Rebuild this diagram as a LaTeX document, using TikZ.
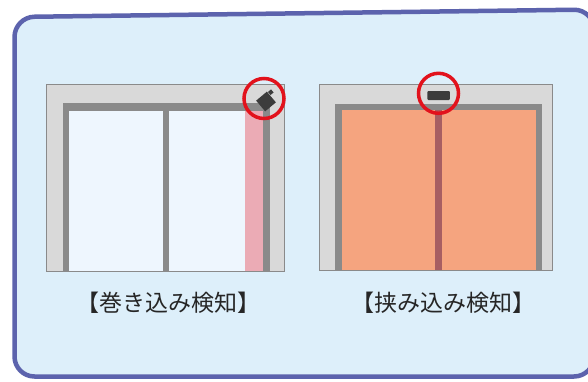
\documentclass[tikz,border=0pt]{standalone}
\usepackage{fontspec}
\newfontfamily\jpfont{Noto Sans CJK JP}
\usetikzlibrary{shapes,positioning,shadows,calc}
\usepackage{xcolor}
\definecolor{panelbg}{HTML}{DDEFFA}
\definecolor{panelrim}{HTML}{5C63AD}
\definecolor{jambgray}{HTML}{D9D9D9}
\definecolor{trimgray}{HTML}{8A8A8A}
\definecolor{glassdoor}{HTML}{EEF6FE}
\definecolor{beampink}{HTML}{EBABB5}
\definecolor{doororange}{HTML}{F5A47F}
\definecolor{seamred}{HTML}{A75E62}
\definecolor{ringred}{HTML}{E2121C}
\definecolor{sensorgray}{HTML}{3C3C3C}

\begin{document}
\begin{tikzpicture}[x=1pt, y=-1pt,
        jamb/.style={fill=jambgray, draw=trimgray, line width=0.8pt},
        trim/.style={fill=trimgray},
        ring/.style={circle, draw=ringred, line width=3.5pt, minimum size=40pt, inner sep=0pt},
        sensor/.style={fill=sensorgray, inner sep=0pt},
        caption/.style={font=\jpfont\fontsize{23}{26}\selectfont, text=black!85}]

        \useasboundingbox (0,0) rectangle (588,381);
        \fill[white] (0,0) rectangle (588,381);
        \draw[panelrim, fill=panelbg, line width=4.5pt, rounded corners=20pt,
            drop shadow={shadow xshift=-1pt, shadow yshift=-1.5pt, opacity=0.2}]
            (14.5,17) -- (594,9.5) -- (594,376.5) -- (14.5,376.5) -- cycle;

        % glass doors with the light curtain
        \draw[jamb] (46,84) rectangle (284,271);
        \fill[trim] (62.7,103.3) rectangle (270,271);
        \fill[glassdoor] (69.3,110.7) rectangle (262.7,271);
        \fill[trim] (162.7,110.7) rectangle (169.3,271);
        \fill[beampink] (245,110.7) rectangle (262.7,271);
        \draw[trimgray, line width=0.8pt] (46,84) rectangle (284,271);

        \node[sensor, minimum size=14pt, rotate=40] (tilt) at (266,101.5) {};
        \node[sensor, minimum width=4pt, minimum height=4pt, rotate=40] (knob) at (270.8,92.2) {};
        \node[ring] (windring) at (264,98.5) {};

        % closed doors with the overhead sensor
        \draw[jamb] (319.3,84) rectangle (552.7,270.7);
        \fill[trim] (335,104.3) rectangle (542.3,270.7);
        \fill[doororange] (341.7,110) rectangle (536,270.7);
        \fill[seamred] (435.3,110) rectangle (441.7,270.7);
        \draw[trimgray, line width=0.8pt] (319.3,84) rectangle (552.7,270.7);

        \node[sensor, minimum width=22.7pt, minimum height=9pt, rounded corners=1pt] (slot) at (438.6,95.5) {};
        \node[ring] (pinchring) at (438.5,93.3) {};

        \node[caption] (windcap) at (168.3,303) {【巻き込み検知】};
        \node[caption] (pinchcap) at (443.3,303) {【挟み込み検知】};
    \end{tikzpicture}
\end{document}
